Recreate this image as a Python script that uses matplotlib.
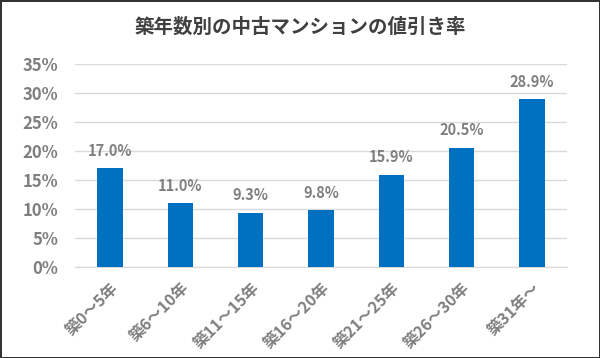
import matplotlib
matplotlib.use("Agg")
import matplotlib.pyplot as plt
import matplotlib.transforms as mtransforms
from matplotlib.ticker import FuncFormatter

plt.rcParams["font.family"] = ["Noto Sans CJK JP", "DejaVu Sans"]

categories = ["築0～5年", "築6～10年", "築11～15年", "築16～20年", "築21～25年", "築26～30年", "築31年～"]
discount_rates = [17.0, 11.0, 9.3, 9.8, 15.9, 20.5, 28.9]
y_ticks = [0, 5, 10, 15, 20, 25, 30, 35]

bar_color = "#0070C0"
text_gray = "#7f7f7f"

fig = plt.figure(figsize=(6, 3.58), dpi=100, linewidth=2, edgecolor="#333333")
ax = fig.add_axes([0.125, 0.254, 0.82, 0.567])

x = range(len(categories))
bars = ax.bar(x, discount_rates, width=0.36, color=bar_color, zorder=3)

# value labels above the bars
for xi, v in zip(x, discount_rates):
    ax.annotate(f"{v:.1f}%", (xi, v), xytext=(0, 7), textcoords="offset points",
                ha="center", va="bottom", fontsize=10.5, fontweight="bold", color=text_gray)

ax.set_xlim(-0.5, len(categories) - 0.5)
ax.set_ylim(0, 35)
ax.set_yticks(y_ticks)
ax.yaxis.set_major_formatter(FuncFormatter(lambda v, p: f"{v:.0f}%"))
ax.grid(axis="y", color="#d9d9d9", linewidth=1, zorder=0)

ax.set_xticks(list(x))
ax.set_xticklabels(categories, rotation=45, ha="right", rotation_mode="anchor",
                   fontsize=11.5, fontweight="bold", color=text_gray)
shift = mtransforms.ScaledTranslation(6 / 72, 0, fig.dpi_scale_trans)
for lbl in ax.get_xticklabels():
    lbl.set_transform(lbl.get_transform() + shift)
for lbl in ax.get_yticklabels():
    lbl.set_fontsize(12)
    lbl.set_fontweight("bold")
    lbl.set_color(text_gray)

ax.tick_params(axis="both", length=0)
ax.tick_params(axis="y", pad=12)
ax.tick_params(axis="x", pad=9)
for s in ["top", "right", "left"]:
    ax.spines[s].set_visible(False)
ax.spines["bottom"].set_color("#d9d9d9")

fig.text(0.5, 0.925, "築年数別の中古マンションの値引き率", ha="center", va="center",
         fontsize=14, fontweight="bold", color="#404040")

fig.savefig("out.png", dpi=100, edgecolor=fig.get_edgecolor())
